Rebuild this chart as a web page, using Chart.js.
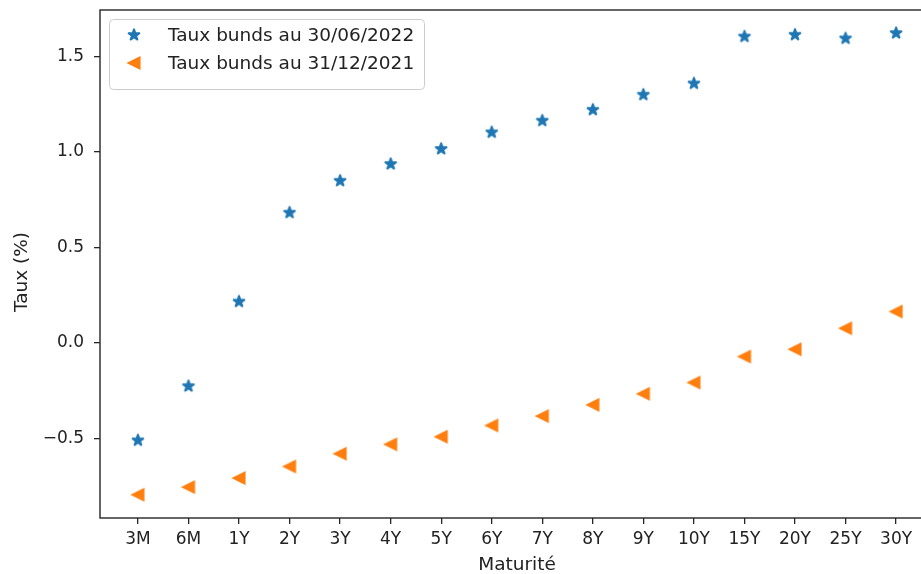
<!DOCTYPE html>
<html>
<head>
<meta charset="utf-8">
<script src="https://cdn.jsdelivr.net/npm/chart.js@4/dist/chart.umd.min.js"></script>
<style>
  html, body { margin: 0; padding: 0; background: #fff; overflow: hidden; }
  #wrap { width: 921px; height: 574px; overflow: hidden; }
</style>
</head>
<body>
<div id="wrap"><canvas id="courbe" width="960" height="574"></canvas></div>
<script>
var maturites = ["3M", "6M", "1Y", "2Y", "3Y", "4Y", "5Y", "6Y", "7Y", "8Y", "9Y", "10Y", "15Y", "20Y", "25Y", "30Y"];
var taux2022 = [-0.511, -0.227, 0.216, 0.682, 0.849, 0.937, 1.016, 1.103, 1.164, 1.221, 1.300, 1.359, 1.605, 1.614, 1.595, 1.623];
var taux2021 = [-0.796, -0.756, -0.709, -0.648, -0.581, -0.532, -0.492, -0.433, -0.384, -0.325, -0.267, -0.208, -0.072, -0.034, 0.076, 0.164];
var yTicks = [-0.5, 0, 0.5, 1.0, 1.5];
var libelles = ["Taux bunds au 30/06/2022", "Taux bunds au 31/12/2021"];

var BLEU = "#1f77b4";
var ORANGE = "#ff7f0e";
var TEXTE = "#222222";
var FAMILLE = "'DejaVu Sans', sans-serif";
var policeTicks = { family: FAMILLE, size: 17 };
var policeTitre = { family: FAMILLE, size: 18.5 };

// marqueur étoile pleine (5 branches)
function etoile(couleur) {
    var c = document.createElement("canvas");
    c.width = 20; c.height = 20;
    var g = c.getContext("2d");
    var R = 6.2, r = R * 0.381966;
    g.beginPath();
    for (var k = 0; k < 10; k++) {
        var rad = (k % 2 === 0) ? R : r;
        var a = -Math.PI / 2 + k * Math.PI / 5;
        var px = 10 + rad * Math.cos(a), py = 10 + rad * Math.sin(a);
        if (k === 0) g.moveTo(px, py); else g.lineTo(px, py);
    }
    g.closePath();
    g.fillStyle = couleur; g.strokeStyle = couleur;
    g.lineWidth = 1.7; g.lineJoin = "bevel";
    g.fill(); g.stroke();
    return c;
}

// marqueur triangle pointe à gauche
function triangleGauche(couleur) {
    var c = document.createElement("canvas");
    c.width = 20; c.height = 20;
    var g = c.getContext("2d");
    var s = 5.7;
    g.beginPath();
    g.moveTo(10 - s, 10);
    g.lineTo(10 + s, 10 - s);
    g.lineTo(10 + s, 10 + s);
    g.closePath();
    g.fillStyle = couleur; g.strokeStyle = couleur;
    g.lineWidth = 1.7; g.lineJoin = "miter";
    g.fill(); g.stroke();
    return c;
}

var mEtoile = etoile(BLEU);
var mTriangle = triangleGauche(ORANGE);

// cadre complet, titre vertical et légende dans la zone de tracé
var cadre = {
    id: "cadre",
    afterDraw: function (chart) {
        var ctx = chart.ctx, a = chart.chartArea;
        ctx.save();
        ctx.strokeStyle = "#262626";
        ctx.lineWidth = 1.4;
        ctx.strokeRect(a.left, a.top, a.right - a.left, a.bottom - a.top);

        ctx.font = policeTitre.size + "px " + FAMILLE;
        ctx.fillStyle = TEXTE;
        ctx.save();
        ctx.translate(a.left - 78, 272);
        ctx.rotate(-Math.PI / 2);
        ctx.textAlign = "center";
        ctx.textBaseline = "middle";
        ctx.fillText("Taux (%)", 0, 0);
        ctx.restore();

        var bx = a.left + 9.5, by = a.top + 9.5, bw = 315, bh = 70, br = 4;
        ctx.beginPath();
        ctx.moveTo(bx + br, by);
        ctx.arcTo(bx + bw, by, bx + bw, by + bh, br);
        ctx.arcTo(bx + bw, by + bh, bx, by + bh, br);
        ctx.arcTo(bx, by + bh, bx, by, br);
        ctx.arcTo(bx, by, bx + bw, by, br);
        ctx.closePath();
        ctx.fillStyle = "rgba(255,255,255,0.8)";
        ctx.fill();
        ctx.strokeStyle = "#cccccc";
        ctx.lineWidth = 1;
        ctx.stroke();

        var marques = [mEtoile, mTriangle];
        ctx.fillStyle = TEXTE;
        ctx.textBaseline = "alphabetic";
        ctx.textAlign = "left";
        for (var i = 0; i < 2; i++) {
            var cy = a.top + 25 + i * 28;
            ctx.drawImage(marques[i], a.left + 34 - 10, cy - 10);
            ctx.fillText(libelles[i], a.left + 68, cy + 6);
        }
        ctx.restore();
    }
};

var grille = { drawOnChartArea: false, drawTicks: true, tickLength: 6, color: "#262626", lineWidth: 1.3 };

new Chart(document.getElementById("courbe"), {
    type: "scatter",
    data: {
        datasets: [
            {
                label: libelles[0],
                data: taux2022.map(function (v, i) { return { x: i, y: v }; }),
                pointStyle: mEtoile,
                pointRadius: 7,
                backgroundColor: BLEU,
                borderColor: BLEU
            },
            {
                label: libelles[1],
                data: taux2021.map(function (v, i) { return { x: i, y: v }; }),
                pointStyle: mTriangle,
                pointRadius: 7,
                backgroundColor: ORANGE,
                borderColor: ORANGE
            }
        ]
    },
    options: {
        responsive: false,
        animation: false,
        layout: { padding: { top: 10, right: 26, left: 0, bottom: 0 } },
        plugins: {
            legend: { display: false },
            tooltip: { enabled: false }
        },
        scales: {
            x: {
                type: "linear",
                min: -0.75,
                max: 15.75,
                afterBuildTicks: function (s) { s.ticks = maturites.map(function (_, i) { return { value: i }; }); },
                afterFit: function (s) { s.height = 56; s.paddingLeft = 0; s.paddingRight = 0; },
                ticks: {
                    callback: function (v) { return maturites[v]; },
                    autoSkip: false, maxRotation: 0, padding: 5,
                    color: TEXTE, font: policeTicks
                },
                grid: grille,
                border: { display: false },
                title: { display: true, text: "Maturité", color: TEXTE, font: policeTitre, padding: { top: 0, bottom: -2 } }
            },
            y: {
                min: -0.918,
                max: 1.744,
                afterBuildTicks: function (s) { s.ticks = yTicks.map(function (v) { return { value: v }; }); },
                afterFit: function (s) { s.width = 100; s.paddingTop = 0; s.paddingBottom = 0; },
                ticks: {
                    callback: function (v) { return v.toFixed(1).replace("-", "\u2212"); },
                    padding: 10,
                    color: TEXTE, font: policeTicks
                },
                grid: grille,
                border: { display: false },
                title: { display: false }
            }
        }
    },
    plugins: [cadre]
});
</script>
</body>
</html>
